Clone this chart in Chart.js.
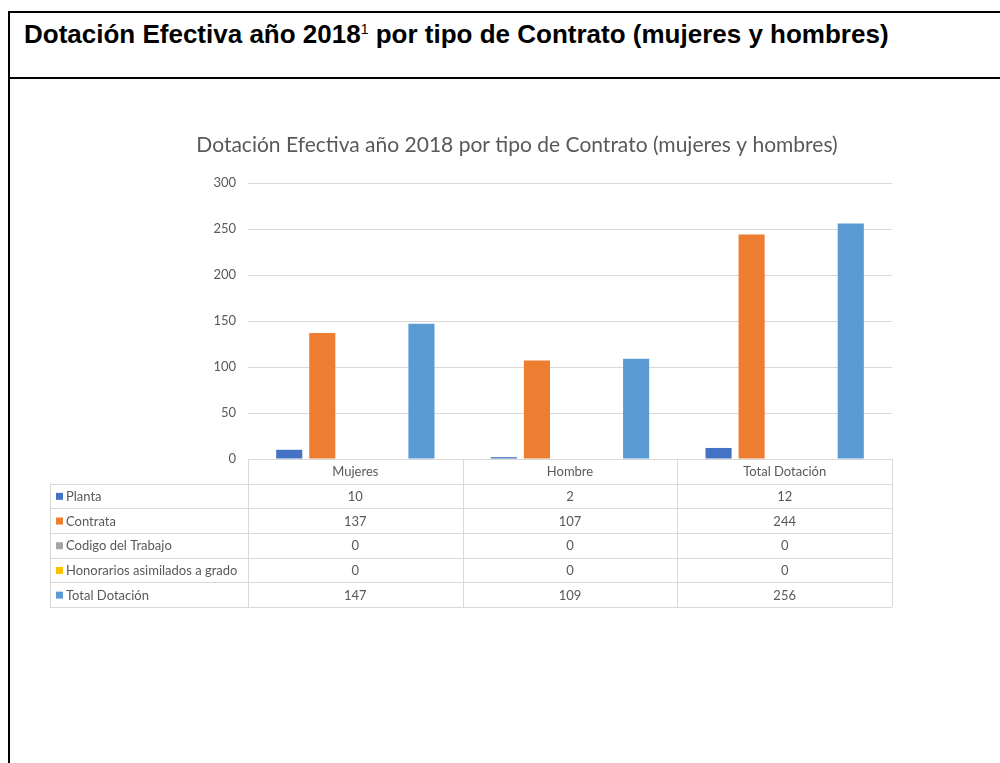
<!DOCTYPE html>
<html>
<head>
<meta charset="utf-8">
<script src="https://cdn.jsdelivr.net/npm/chart.js@4.4.1/dist/chart.umd.min.js"></script>
<style>
  body { margin: 0; background: #fff; }
  #frame { position: absolute; left: 8px; top: 11px; width: 1000px; height: 760px;
           border-left: 2px solid #000; border-top: 2px solid #000; }
  #head { position: absolute; left: 8px; top: 11px; width: 1000px; height: 66px;
          border-bottom: 2px solid #000; }
  #head h1 { margin: 0; position: absolute; left: 16px; top: 8px; font-family: "Liberation Sans Narrow", "Liberation Sans", Arial, sans-serif;
             font-weight: bold; font-size: 26px; color: #000; white-space: nowrap; }
  #head sup { font-weight: normal; font-size: 14px; vertical-align: 9px; }
  #chart { position: absolute; left: 0; top: 0; }
</style>
</head>
<body>
<div id="frame"></div>
<div id="head"><h1>Dotación Efectiva año 2018<sup>1</sup> por tipo de Contrato (mujeres y hombres)</h1></div>
<canvas id="chart" width="1000" height="763"></canvas>
<script>
const chartTitle = 'Dotación Efectiva año 2018 por tipo de Contrato (mujeres y hombres)';
const categories = ['Mujeres', 'Hombre', 'Total Dotación'];
const seriesNames = ['Planta', 'Contrata', 'Codigo del Trabajo', 'Honorarios asimilados a grado', 'Total Dotación'];
const planta = [10, 2, 12];
const contrata = [137, 107, 244];
const codigoTrabajo = [0, 0, 0];
const honorarios = [0, 0, 0];
const totalDotacion = [147, 109, 256];
const yTicks = [0, 50, 100, 150, 200, 250, 300];

const seriesValues = [planta, contrata, codigoTrabajo, honorarios, totalDotacion];
const colors = ['#4472c4', '#ed7d31', '#a5a5a5', '#ffc000', '#5b9bd5'];
const textColor = '#595959';
const lineColor = '#d9d9d9';

// chart title, centred like the Excel one (not over the plot area)
const titlePlugin = {
  id: 'excelTitle',
  afterDraw(chart) {
    const ctx = chart.ctx;
    ctx.save();
    ctx.font = '21px Lato, "Open Sans", sans-serif';
    ctx.fillStyle = textColor;
    ctx.textAlign = 'center';
    ctx.textBaseline = 'alphabetic';
    ctx.fillText(chartTitle, 517, 152);
    ctx.restore();
  }
};

// Excel style data table below the plot
const dataTable = {
  id: 'dataTable',
  afterDraw(chart) {
    const ctx = chart.ctx;
    const area = chart.chartArea;
    const xs = chart.scales.x;
    const n = categories.length;
    const colW = (area.right - area.left) / n;
    const headH = 24.5, rowH = 24.7;
    const labelLeft = 50;
    const top = area.bottom;
    const bodyTop = top + headH;
    const bottom = bodyTop + rowH * seriesNames.length;

    ctx.save();
    ctx.strokeStyle = lineColor;
    ctx.lineWidth = 1;
    ctx.beginPath();
    ctx.moveTo(area.left, top + 0.5); ctx.lineTo(area.right, top + 0.5);
    for (let r = 0; r <= seriesNames.length; r++) {
      const y = Math.round(bodyTop + r * rowH) + 0.5;
      ctx.moveTo(labelLeft, y); ctx.lineTo(area.right, y);
    }
    for (let c = 0; c <= n; c++) {
      const x = Math.round(area.left + c * colW) + 0.5;
      ctx.moveTo(x, top); ctx.lineTo(x, bottom);
    }
    ctx.moveTo(labelLeft + 0.5, bodyTop); ctx.lineTo(labelLeft + 0.5, bottom);
    ctx.stroke();

    ctx.font = '13px Lato, "Open Sans", sans-serif';
    ctx.fillStyle = textColor;
    ctx.textBaseline = 'middle';
    ctx.textAlign = 'center';
    categories.forEach((cat, i) => {
      ctx.fillText(cat, xs.getPixelForValue(i), top + headH / 2 + 1);
    });
    seriesNames.forEach((name, r) => {
      const cy = bodyTop + r * rowH + rowH / 2 + 1;
      ctx.fillStyle = colors[r];
      ctx.fillRect(labelLeft + 6, cy - 4, 7, 7);
      ctx.fillStyle = textColor;
      ctx.textAlign = 'left';
      ctx.fillText(name, labelLeft + 16, cy);
      ctx.textAlign = 'center';
      seriesValues[r].forEach((v, i) => {
        ctx.fillText(String(v), xs.getPixelForValue(i), cy);
      });
    });
    ctx.restore();
  }
};

new Chart(document.getElementById('chart'), {
  type: 'bar',
  data: {
    labels: categories,
    datasets: seriesNames.map((name, i) => ({
      label: name,
      data: seriesValues[i],
      backgroundColor: colors[i],
      borderWidth: 0,
      categoryPercentage: 0.77,
      barPercentage: 0.79
    }))
  },
  options: {
    responsive: false,
    animation: false,
    layout: { padding: { left: 208, right: 108, top: 183, bottom: 304 } },
    scales: {
      x: { display: false },
      y: {
        min: 0,
        max: 300,
        afterFit(scale) { scale.width = 40; },
        afterBuildTicks(scale) { scale.ticks = yTicks.map(v => ({ value: v })); },
        border: { display: false },
        grid: { color: lineColor, drawTicks: false },
        ticks: { padding: 12, color: textColor, font: { family: 'Lato', size: 13 } }
      }
    },
    plugins: {
      legend: { display: false },
      title: { display: false }
    }
  },
  plugins: [titlePlugin, dataTable]
});
</script>
</body>
</html>
